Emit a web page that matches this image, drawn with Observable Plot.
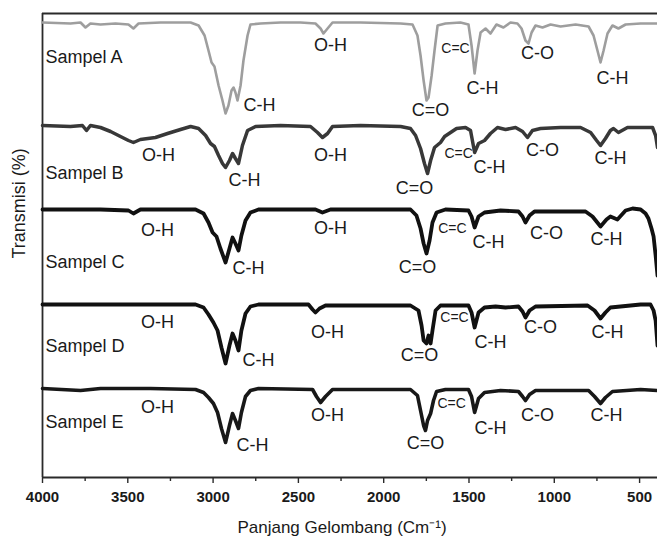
<!DOCTYPE html>
<html><head><meta charset="utf-8">
<script src="https://cdn.jsdelivr.net/npm/d3@7"></script>
<script src="https://cdn.jsdelivr.net/npm/@observablehq/plot@0.6"></script>
<style>body{margin:0;background:#fff;} svg{display:block;}</style>
</head><body><div id="chart"></div>
<script>
// x: wavenumber (cm-1), y: stacked transmittance (arbitrary units)
const ticksMajor = [4000, 3500, 3000, 2500, 2000, 1500, 1000, 500];
const ticksMinor = [3750, 3250, 2750, 2250, 1750, 1250, 750];

const sampelA = [[4000,455],[3836,454],[3777,455],[3748,450],[3719,454],[3660,453],[3572,454],[3496,453],[3467,449],[3437,454],[3308,455],[3132,455],[3085,452],[3050,442],[3027,427],[3009,415],[2992,411],[2968,392],[2945,377],[2927,364],[2910,372],[2892,387],[2880,390],[2869,385],[2857,377],[2839,392],[2822,417],[2798,442],[2781,453],[2722,454],[2605,455],[2488,455],[2400,454],[2370,449],[2353,444],[2329,449],[2300,455],[2136,455],[1901,454],[1831,453],[1802,442],[1784,422],[1766,397],[1749,377],[1737,380],[1719,402],[1702,427],[1684,452],[1638,454],[1550,455],[1503,453],[1485,432],[1467,404],[1450,427],[1432,445],[1403,449],[1374,444],[1339,453],[1298,450],[1257,455],[1216,454],[1192,449],[1169,437],[1151,434],[1133,445],[1110,452],[1069,450],[1022,453],[963,451],[875,453],[799,451],[770,442],[747,427],[729,415],[711,427],[688,444],[659,452],[624,449],[582,453],[494,454],[395,454]];

const sampelB = [[4000,352],[3836,351],[3766,352],[3742,347],[3719,352],[3660,350],[3601,346],[3543,341],[3496,337],[3467,335],[3426,338],[3338,340],[3267,344],[3191,348],[3132,351],[3085,349],[3044,342],[3015,334],[2992,331],[2968,322],[2945,314],[2927,310],[2904,317],[2886,324],[2869,319],[2851,314],[2828,332],[2798,347],[2751,351],[2605,352],[2429,351],[2388,345],[2359,340],[2329,344],[2300,351],[2136,352],[1901,351],[1843,349],[1813,342],[1784,329],[1761,314],[1743,304],[1725,317],[1702,330],[1667,335],[1643,341],[1608,345],[1573,349],[1520,350],[1491,347],[1467,325],[1444,334],[1409,337],[1374,344],[1333,350],[1286,348],[1227,350],[1186,346],[1157,340],[1128,347],[1081,349],[963,350],[846,350],[787,345],[752,337],[729,332],[700,339],[671,347],[653,349],[624,345],[571,350],[424,350],[406,342],[395,330]];

const sampelC = [[4000,268],[3660,268],[3496,267],[3467,264],[3426,268],[3103,268],[3056,264],[3027,255],[3003,245],[2980,241],[2957,229],[2927,215],[2904,229],[2886,240],[2869,234],[2851,227],[2834,242],[2810,257],[2781,265],[2734,268],[2400,268],[2359,265],[2312,268],[1843,268],[1808,262],[1784,249],[1766,234],[1749,224],[1731,237],[1714,255],[1690,265],[1638,268],[1503,267],[1485,261],[1467,250],[1444,261],[1409,265],[1315,267],[1210,266],[1186,261],[1169,255],[1145,262],[1116,266],[817,266],[776,261],[729,251],[694,258],[671,261],[630,258],[582,267],[541,269],[494,268],[465,264],[448,259],[430,249],[418,241],[406,222],[395,202]];

const sampelD = [[4000,173],[3103,173],[3056,170],[3027,163],[2998,155],[2974,147],[2951,130],[2927,114],[2904,132],[2886,144],[2869,137],[2851,127],[2834,147],[2810,164],[2781,171],[2734,173],[2441,173],[2417,168],[2400,165],[2376,169],[2341,172],[1843,172],[1796,167],[1778,152],[1766,137],[1749,134],[1737,142],[1725,134],[1714,147],[1696,167],[1667,172],[1503,172],[1485,165],[1467,150],[1444,165],[1409,170],[1344,171],[1286,170],[1210,171],[1186,166],[1169,160],[1145,167],[1110,171],[805,172],[764,167],[729,159],[700,165],[671,170],[494,173],[436,173],[418,167],[406,157],[395,132]];

const sampelE = [[4000,89],[3777,87],[3660,89],[3367,89],[3103,88],[3056,85],[3027,80],[2998,74],[2974,65],[2951,49],[2927,35],[2904,52],[2886,64],[2869,57],[2851,49],[2834,65],[2810,81],[2781,87],[2734,89],[2417,88],[2394,81],[2370,75],[2341,81],[2300,88],[1843,88],[1802,82],[1784,67],[1766,52],[1755,47],[1743,57],[1725,64],[1708,77],[1690,86],[1638,88],[1503,88],[1485,81],[1467,65],[1444,79],[1409,85],[1315,87],[1210,86],[1186,81],[1169,77],[1145,83],[1110,87],[799,87],[764,81],[729,74],[700,80],[659,86],[494,88],[395,87]];

// annotation labels: [text, wavenumber, transmittance]
const labelsA = [["C-H",2728,372],["O-H",2312,432],["C=O",1726,367],["C-H",1421,389],["C-O",1098,424],["C-H",659,399]];
const labelsB = [["O-H",3320,322],["C-H",2816,297],["O-H",2312,322],["C=O",1819,289],["C-H",1380,310],["C-O",1069,327],["C-H",670,319]];
const labelsC = [["O-H",3326,247],["C-H",2792,209],["O-H",2312,249],["C=O",1802,210],["C-H",1386,235],["C-O",1046,244],["C-H",694,238]];
const labelsD = [["O-H",3326,155],["C-H",2734,117],["O-H",2329,145],["C=O",1790,122],["C-H",1374,135],["C-O",1081,150],["C-H",688,145]];
const labelsE = [["O-H",3326,70],["C-H",2769,32],["O-H",2329,62],["C=O",1755,34],["C-H",1374,49],["C-O",1098,62],["C-H",694,62]];
const labelsCC = [["C=C",1579,429],["C=C",1561,324],["C=C",1597,249],["C=C",1585,160],["C=C",1602,74]];
const sampleNames = [["Sampel A",3982,420],["Sampel B",3982,304],["Sampel C",3982,215],["Sampel D",3982,131],["Sampel E",3982,55]];

const font = "'Liberation Sans', Arial, sans-serif";
const series = [
  {pts: sampelA, stroke: "#9e9e9e", width: 2.6},
  {pts: sampelB, stroke: "#383838", width: 3.5},
  {pts: sampelC, stroke: "#111", width: 3.8},
  {pts: sampelD, stroke: "#111", width: 3.8},
  {pts: sampelE, stroke: "#181818", width: 3.6}
];
const groupLabels = [...labelsA, ...labelsB, ...labelsC, ...labelsD, ...labelsE];

const chart = Plot.plot({
  width: 657, height: 540,
  marginLeft: 42, marginRight: 0, marginTop: 13, marginBottom: 63,
  style: {fontFamily: font, background: "#fff", color: "#1a1a1a"},
  x: {domain: [4000, 395]},
  y: {domain: [0, 464], axis: null},
  marks: [
    Plot.ruleY([0], {stroke: "#2a2a2a", strokeWidth: 1.8}),
    Plot.ruleY([464], {stroke: "#2a2a2a", strokeWidth: 1.8}),
    Plot.ruleX([4000], {stroke: "#2a2a2a", strokeWidth: 1.8}),
    Plot.axisX(ticksMajor, {tickSize: 6, tickPadding: 8, tickFormat: d => String(d), fontSize: 15, fontWeight: "bold", stroke: "#2a2a2a", strokeWidth: 1.4, fill: "#1a1a1a", label: null}),
    Plot.axisX(ticksMinor, {tickSize: 4, tickFormat: () => "", stroke: "#2a2a2a", strokeWidth: 1.4, label: null}),
    ...series.map(s => Plot.line(s.pts, {x: d => d[0], y: d => d[1], stroke: s.stroke, strokeWidth: s.width, strokeLinejoin: "round", strokeLinecap: "round"})),
    Plot.text(groupLabels, {x: d => d[1], y: d => d[2], text: d => d[0], fontSize: 18, fill: "#1a1a1a"}),
    Plot.text(labelsCC, {x: d => d[1], y: d => d[2], text: d => d[0], fontSize: 14, fill: "#1a1a1a"}),
    Plot.text(sampleNames, {x: d => d[1], y: d => d[2], text: d => d[0], fontSize: 18, textAnchor: "start", fill: "#1a1a1a"}),
    Plot.text(["Panjang Gelombang (Cm⁻¹)"], {frameAnchor: "bottom", dx: -8, dy: 55, fontSize: 17, fill: "#1a1a1a"}),
    Plot.text(["Transmisi (%)"], {frameAnchor: "left", dx: -23, dy: 13, rotate: -90, fontSize: 18, fill: "#1a1a1a"})
  ]
});
document.getElementById("chart").append(chart);
</script>
</body></html>
